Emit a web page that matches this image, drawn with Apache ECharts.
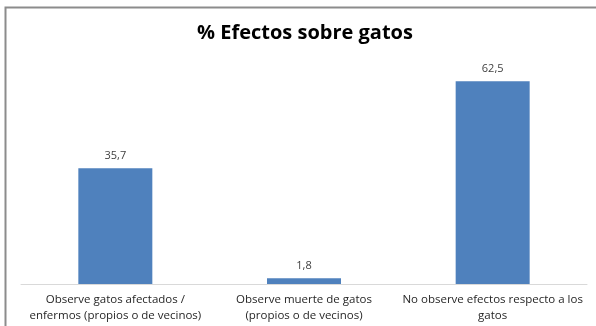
<!DOCTYPE html>
<html><head><meta charset="utf-8">
<script src="https://cdn.jsdelivr.net/npm/echarts@6/dist/echarts.min.js"></script>
<style>html,body{margin:0;padding:0;background:#fff}#c{width:596px;height:326px}</style>
</head><body><div id="c"></div>
<script>
var categories = ["Observe gatos afectados /\nenfermos (propios o de vecinos)", "Observe muerte de gatos\n(propios o de vecinos)", "No observe efectos respecto a los\ngatos"];
var values = [35.7, 1.8, 62.5];
var titleText = "% Efectos sobre gatos";

var chart = echarts.init(document.getElementById('c'), null, {renderer: 'canvas'});
chart.setOption({
  animation: false,
  backgroundColor: '#fff',
  graphic: [{
    type: 'polyline', z: 10,
    shape: {points: [[5.5, 340], [5.5, 7.5], [600, 7.5]]},
    style: {stroke: '#8c8c8c', lineWidth: 2, fill: null}
  }],
  title: {
    text: titleText, left: 192, top: 18,
    textStyle: {fontFamily: 'Open Sans', fontWeight: 'bold', fontSize: 20, color: '#000'}
  },
  grid: {left: 21, right: 9, top: 57, bottom: 42},
  xAxis: {
    type: 'category', data: categories,
    axisLine: {lineStyle: {color: '#d9d9d9', width: 1}},
    axisTick: {show: false},
    axisLabel: {interval: 0, color: '#262626', fontFamily: 'Open Sans', fontSize: 11.5, lineHeight: 16, margin: 8}
  },
  yAxis: {type: 'value', min: 0, max: 70, show: false, splitLine: {show: false}},
  series: [{
    type: 'bar', data: values, barWidth: 74,
    itemStyle: {color: '#4f81bd'},
    label: {show: true, position: 'top', distance: 7, color: '#404040', fontFamily: 'Open Sans', fontSize: 11,
      formatter: function(p){ return String(p.value).replace('.', ','); }}
  }]
});
</script></body></html>
